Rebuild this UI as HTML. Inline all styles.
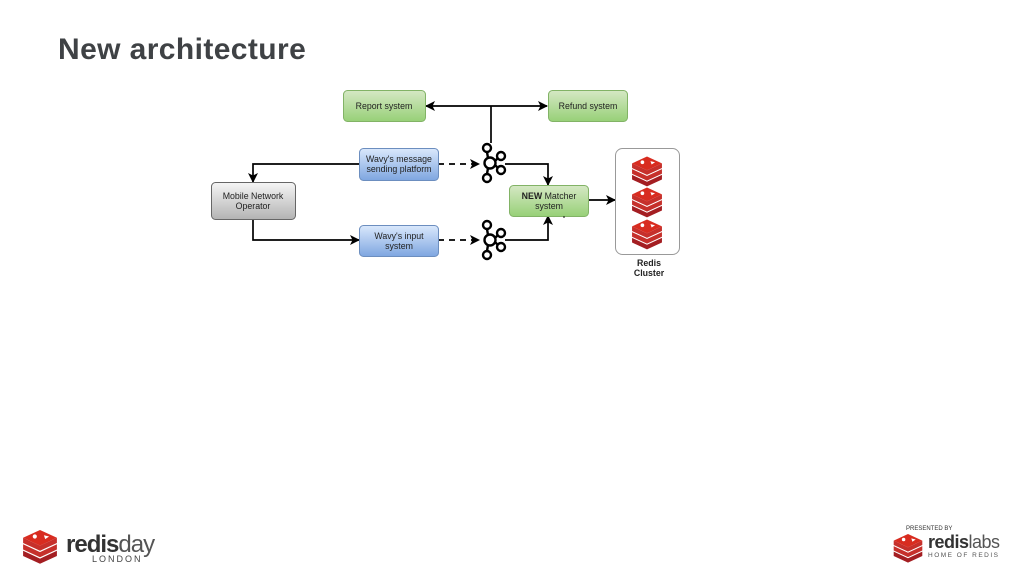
<!DOCTYPE html>
<html><head><meta charset="utf-8"><style>
html,body{margin:0;padding:0;background:#fff;width:1024px;height:576px;overflow:hidden;font-family:"Liberation Sans",sans-serif}
.t{position:absolute;left:58px;top:33px;font-size:30px;font-weight:bold;color:#3f4245;letter-spacing:0.4px}
</style></head><body>
<div class="t">New architecture</div>
<svg width="1024" height="576" style="position:absolute;left:0;top:0" font-family="Liberation Sans, sans-serif">
<defs>
<linearGradient id="g" x1="0" y1="0" x2="0" y2="1"><stop offset="0" stop-color="#d5e8c4"/><stop offset="1" stop-color="#97d077"/></linearGradient>
<linearGradient id="b" x1="0" y1="0" x2="0" y2="1"><stop offset="0" stop-color="#dae8fc"/><stop offset="1" stop-color="#7ea6e0"/></linearGradient>
<linearGradient id="s" x1="0" y1="0" x2="0" y2="1"><stop offset="0" stop-color="#f5f5f5"/><stop offset="1" stop-color="#b3b3b3"/></linearGradient>
<marker id="a" markerWidth="10" markerHeight="10" refX="9" refY="5" orient="auto" markerUnits="userSpaceOnUse"><path d="M0,0 L10,5 L0,10 L2.5,5z" fill="#000"/></marker>
<marker id="as" markerWidth="10" markerHeight="10" refX="1" refY="5" orient="auto" markerUnits="userSpaceOnUse"><path d="M10,0 L0,5 L10,10 L7.5,5z" fill="#000"/></marker>
<g id="k" fill="none" stroke="#000" stroke-width="2.4">
<circle cx="0" cy="0" r="5.5"/><circle cx="-3" cy="-15" r="4"/><circle cx="-3" cy="15" r="4"/><circle cx="11" cy="-7" r="4"/><circle cx="11" cy="7" r="4"/>
<path d="M-2,-5 L-3,-11 M-2,5 L-3,11 M5,-2 L8,-5 M5,2 L8,5"/></g>
<g id="r">
<path d="M-13,6 L0,12 L13,6 L13,10 L0,16 L-13,10z" fill="#a41e22"/>
<path d="M-13,1 L0,7 L13,1 L13,5 L0,11 L-13,5z" fill="#c6302b"/>
<path d="M-13,-4 L0,2 L13,-4 L13,0 L0,6 L-13,0z" fill="#c6302b"/>
<path d="M-13,-4 L0,-10 L13,-4 L0,2z" fill="#d82c20"/>
<circle cx="-4" cy="-5" r="1.6" fill="#fff"/><path d="M3,-6 l4,1 -3,2z" fill="#fff"/></g>
</defs>
<g stroke="#000" stroke-width="1.7" fill="none">
<path d="M491,143 V106"/>
<path d="M426,106 H547" marker-start="url(#as)" marker-end="url(#a)"/>
<path d="M359,164 H253 V182" marker-end="url(#a)"/>
<path d="M253,219 V240 H359" marker-end="url(#a)"/>
<path d="M438,164 H479" stroke-dasharray="6,5" marker-end="url(#a)"/>
<path d="M438,240 H479" stroke-dasharray="6,5" marker-end="url(#a)"/>
<path d="M505,164 H548 V185" marker-end="url(#a)"/>
<path d="M505,240 H548 V216" marker-end="url(#a)"/>
<path d="M588,200 H615" marker-end="url(#a)"/>
</g>
<rect x="343.5" y="90.5" width="82" height="31" rx="4" fill="url(#g)" stroke="#82b366"/>
<rect x="548.5" y="90.5" width="79" height="31" rx="4" fill="url(#g)" stroke="#82b366"/>
<rect x="359.5" y="148.5" width="79" height="32" rx="4" fill="url(#b)" stroke="#6c8ebf"/>
<rect x="211.5" y="182.5" width="84" height="37" rx="4" fill="url(#s)" stroke="#666"/>
<rect x="359.5" y="225.5" width="79" height="31" rx="4" fill="url(#b)" stroke="#6c8ebf"/>
<rect x="509.5" y="185.5" width="79" height="31" rx="4" fill="url(#g)" stroke="#82b366"/>
<rect x="615.5" y="148.5" width="64" height="106" rx="7" fill="#fff" stroke="#999"/>
<g font-size="8.8" fill="#222" text-anchor="middle">
<text x="384" y="109">Report system</text>
<text x="588" y="109">Refund system</text>
<text x="399" y="162">Wavy's message</text><text x="399" y="172">sending platform</text>
<text x="253" y="199">Mobile Network</text><text x="253" y="209">Operator</text>
<text x="399" y="239">Wavy's input</text><text x="399" y="249">system</text>
<text x="549" y="199"><tspan font-weight="bold">NEW</tspan> Matcher</text><text x="549" y="209">system</text>
<text x="649" y="266" font-weight="bold">Redis</text><text x="649" y="276" font-weight="bold">Cluster</text>
</g>
<circle cx="564" cy="217" r="0.8" fill="#000"/>
<use href="#k" x="490" y="163"/><use href="#k" x="490" y="240"/>
<g transform="translate(647,168) scale(1.15)"><use href="#r"/></g>
<g transform="translate(647,199) scale(1.15)"><use href="#r"/></g>
<g transform="translate(647,231) scale(1.15)"><use href="#r"/></g>
<g transform="translate(40,543) scale(1.3)"><use href="#r"/></g>
<text x="66" y="552" font-size="24" fill="#333" font-weight="bold" letter-spacing="-1">redis<tspan font-weight="normal" fill="#555">day</tspan></text>
<text x="92" y="562" font-size="9" fill="#444" letter-spacing="2">LONDON</text>
<g transform="translate(908,545) scale(1.1)"><use href="#r"/></g>
<text x="906" y="530" font-size="6" fill="#333">PRESENTED BY</text>
<text x="928" y="548" font-size="18" fill="#333" font-weight="bold" letter-spacing="-0.5">redis<tspan font-weight="normal" fill="#555">labs</tspan></text>
<text x="928" y="557" font-size="6.5" fill="#555" letter-spacing="1.5">HOME OF REDIS</text>
</svg>
</body></html>
